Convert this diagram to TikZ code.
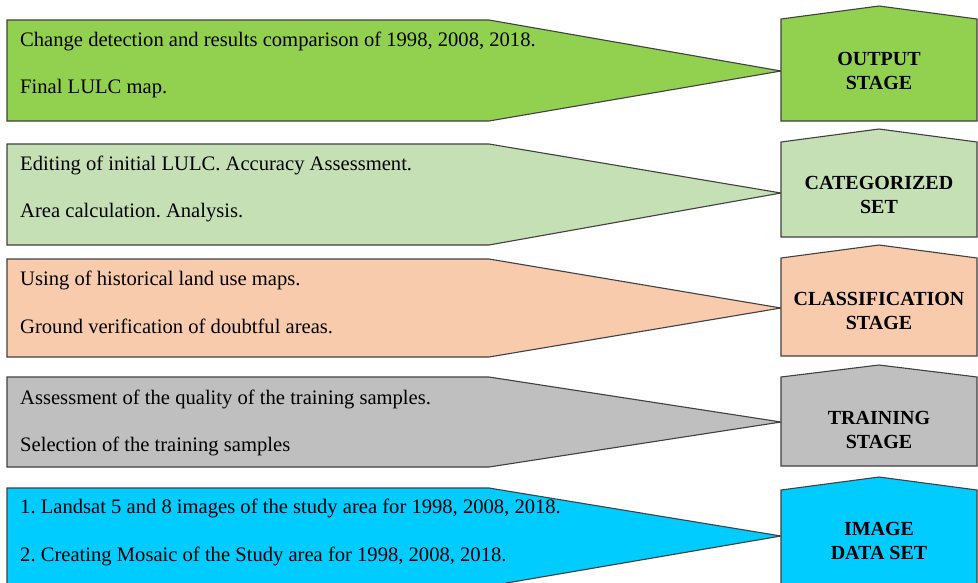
\documentclass[tikz,border=0pt]{standalone}
\usepackage{fontspec}
\setmainfont{Liberation Serif}
\frenchspacing
\definecolor{cOut}{HTML}{92D050}
\definecolor{cCat}{HTML}{C5E0B4}
\definecolor{cCla}{HTML}{F8CBAD}
\definecolor{cTra}{HTML}{BFBFBF}
\definecolor{cImg}{HTML}{00CCFF}
\definecolor{edge}{HTML}{404040}
\tikzset{
  shapeline/.style={draw=edge, line width=1.1pt, line join=miter},
  desc/.style={anchor=base west, inner sep=0pt, font=\fontsize{20.6}{22}\selectfont},
  stagetxt/.style={anchor=base, inner sep=0pt, align=center, font=\fontsize{20}{24}\selectfont\bfseries}
}
\newcommand{\leftarrowshape}[4]{% top, bottom, tip y, colour
  \path[shapeline, fill=#4] (7,#1) -- (489,#1) -- (781,#3) -- (489,#2) -- (7,#2) -- cycle;}
\newcommand{\stagebox}[4]{% peak, top side, bottom, colour
  \path[shapeline, fill=#4] (781,#2) -- (879,#1) -- (977,#2) -- (977,#3) -- (781,#3) -- cycle;}
\begin{document}
\begin{tikzpicture}[x=1pt, y=-1pt]
\useasboundingbox (0,0) rectangle (978,582);
% row 1
\leftarrowshape{20}{121}{71}{cOut}
\stagebox{6}{19}{121}{cOut}
\node[desc] (o1) at (20,46) {Change detection and results comparison of 1998, 2008, 2018.};
\node[desc] (o2) at (20,93) {Final LULC map.};
\node[stagetxt] (os) at (879,89) {OUTPUT\\STAGE};
% row 2
\leftarrowshape{144}{245}{193}{cCat}
\stagebox{129}{142}{237}{cCat}
\node[desc] (c1) at (20,170) {Editing of initial LULC. Accuracy Assessment.};
\node[desc] (c2) at (20,217) {Area calculation. Analysis.};
\node[stagetxt] (cs) at (879,213) {CATEGORIZED\\SET};
% row 3
\leftarrowshape{259}{357}{308}{cCla}
\stagebox{245}{258}{356}{cCla}
\node[desc] (l1) at (20,285) {Using of historical land use maps.};
\node[desc] (l2) at (20,333) {Ground verification of doubtful areas.};
\node[stagetxt] (ls) at (879,329) {CLASSIFICATION\\STAGE};
% row 4
\leftarrowshape{377}{467}{422}{cTra}
\stagebox{365}{377}{466}{cTra}
\node[desc] (r1) at (20,404) {Assessment of the quality of the training samples.};
\node[desc] (r2) at (20,451) {Selection of the training samples};
\node[stagetxt] (rs) at (879,448) {TRAINING\\STAGE};
% row 5
\leftarrowshape{488}{586}{536}{cImg}
\stagebox{477}{490}{600}{cImg}
\node[desc] (i1) at (20,513) {1. Landsat 5 and 8 images of the study area for 1998, 2008, 2018.};
\node[desc] (i2) at (20,561) {2. Creating Mosaic of the Study area for 1998, 2008, 2018.};
\node[stagetxt] (is) at (879,559) {IMAGE\\DATA SET};
\end{tikzpicture}
\end{document}
